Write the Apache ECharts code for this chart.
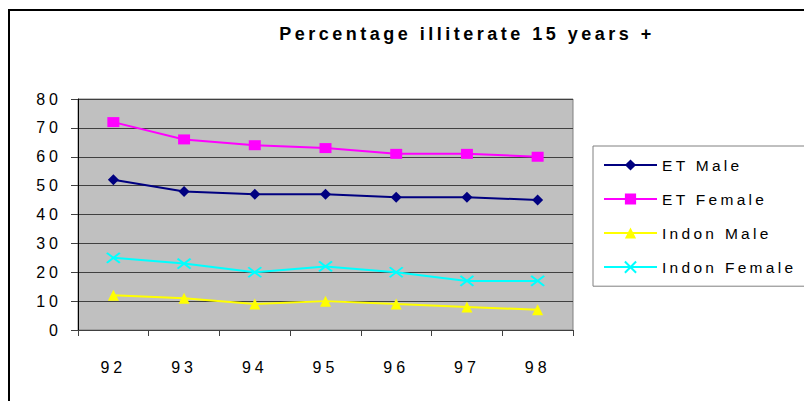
<!DOCTYPE html>
<html>
<head>
<meta charset="utf-8">
<script src="https://cdn.jsdelivr.net/npm/echarts@6/dist/echarts.min.js"></script>
<style>
  html, body { margin: 0; padding: 0; background: #fff; }
  #chart { width: 804px; height: 401px; }
  #chart text { letter-spacing: 4px; }
  #chart text[style*="bold"] { letter-spacing: 3.5px; }
  #chart text[style*="15.5px"] { letter-spacing: 3.3px; }
</style>
</head>
<body>
<div id="chart"></div>
<script>
const titleText = 'Percentage illiterate 15 years +';
const years = ['92', '93', '94', '95', '96', '97', '98'];
const etMale = [52, 48, 47, 47, 46, 46, 45];
const etFemale = [72, 66, 64, 63, 61, 61, 60];
const indonMale = [12, 11, 9, 10, 9, 8, 7];
const indonFemale = [25, 23, 20, 22, 20, 17, 17];
const seriesNames = ['ET Male', 'ET Female', 'Indon Male', 'Indon Female'];

const FONT = '"Liberation Sans", Arial, sans-serif';
const chart = echarts.init(document.getElementById('chart'), null, { renderer: 'svg' });

function lineSeries(name, data, color, symbol, size, extra) {
  return Object.assign({
    name: name,
    type: 'line',
    data: data,
    symbol: symbol,
    symbolSize: size,
    showSymbol: true,
    lineStyle: { color: color, width: 2 },
    itemStyle: { color: color },
    emphasis: { disabled: true },
    animation: false
  }, extra || {});
}

chart.setOption({
  animation: false,
  graphic: [
    { type: 'rect', shape: { x: 9, y: 10, width: 1000, height: 1000 },
      style: { fill: 'none', stroke: '#000', lineWidth: 2 }, silent: true },
    { type: 'text', x: 467, y: 34,
      style: { text: titleText, font: 'bold 18px ' + FONT, fill: '#000',
               textAlign: 'center', textVerticalAlign: 'middle' } }
  ],
  grid: {
    left: 78, right: 231, top: 99, bottom: 71,
    show: true, backgroundColor: '#c0c0c0', borderColor: '#808080', borderWidth: 1
  },
  legend: {
    orient: 'vertical',
    left: 593, top: 146,
    padding: [11, 80, 11, 10],
    itemWidth: 53, itemHeight: 14, itemGap: 18,
    backgroundColor: '#fff',
    borderColor: '#808080', borderWidth: 1,
    textStyle: { fontFamily: FONT, fontSize: 15.5, lineHeight: 16, color: '#000' },
    data: seriesNames
  },
  xAxis: {
    type: 'category',
    data: years,
    boundaryGap: true,
    axisLine: { lineStyle: { color: '#404040', width: 1 } },
    axisTick: { show: true, length: 6, lineStyle: { color: '#404040' } },
    axisLabel: { margin: 29, fontFamily: FONT, fontSize: 16, color: '#000' },
    splitLine: { show: false }
  },
  yAxis: {
    type: 'value',
    min: 0, max: 80, interval: 10,
    axisLine: { show: true, lineStyle: { color: '#000', width: 1 } },
    axisTick: { show: true, length: 7, lineStyle: { color: '#404040' } },
    axisLabel: { margin: 16, fontFamily: FONT, fontSize: 16, color: '#000' },
    splitLine: { show: true, lineStyle: { color: '#404040', width: 1 } }
  },
  series: [
    lineSeries(seriesNames[0], etMale, '#000080', 'diamond', 11),
    lineSeries(seriesNames[1], etFemale, '#ff00ff', 'rect', [12, 10]),
    lineSeries(seriesNames[2], indonMale, '#ffff00', 'triangle', 11),
    lineSeries(seriesNames[3], indonFemale, '#00ffff', 'path://M0,0L10,8M10,0L0,8', [13, 10],
      { itemStyle: { color: 'none', borderColor: '#00ffff', borderWidth: 2 } })
  ]
});
</script>
</body>
</html>
